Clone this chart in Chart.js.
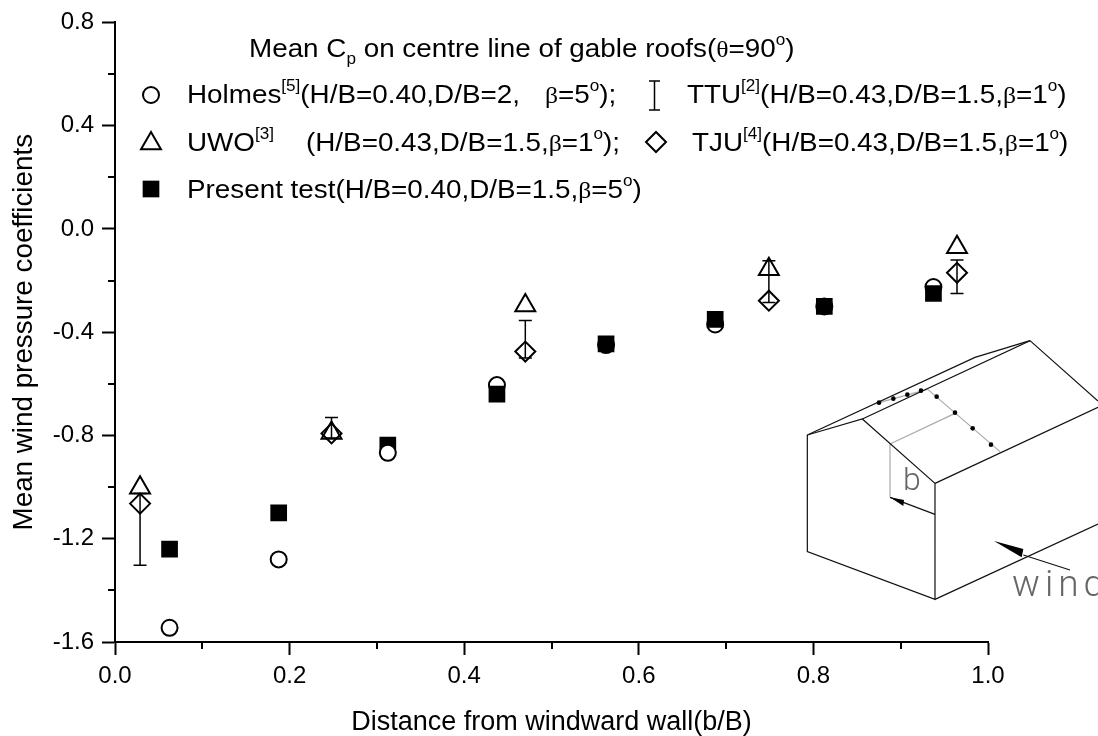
<!DOCTYPE html>
<html><head><meta charset="utf-8">
<style>html,body{margin:0;padding:0;background:#fff}canvas{display:block}</style>
<script src="https://cdn.jsdelivr.net/npm/chart.js@4/dist/chart.umd.js"></script>
</head><body><div style="width:1098px;height:736px"><canvas id="c" width="1098" height="736"></canvas></div>
<script>
const xAxisTitle = "Distance from windward wall(b/B)";
const yAxisTitle = "Mean wind pressure coefficients";
const holmesX = [0.0625,0.1875,0.3125,0.4375,0.5625,0.6875,0.8125,0.9375];
const holmesY = [-1.545,-1.28,-0.867,-0.605,-0.45,-0.37,-0.30,-0.225];
const presentX = [0.0625,0.1875,0.4375,0.5625,0.6875,0.8125,0.9375];
const presentY = [-1.24,-1.10,-0.64,-0.445,-0.35,-0.30,-0.25];
const presentUnderX = [0.3125];
const presentUnderY = [-0.837];
const sparseX = [0.0287,0.248,0.47,0.749,0.9645];
const uwoY = [-1.003,-0.79,-0.297,-0.156,-0.071];
const tjuY = [-1.064,-0.792,-0.475,-0.278,-0.17];
const ttuHigh = [-1.025,-0.73,-0.355,-0.123,-0.12];
const ttuLow = [-1.303,-0.81,-0.50,-0.285,-0.25];

const pts = (xs,ys)=>xs.map((x,i)=>({x,y:ys[i]}));
const ttuPts = sparseX.flatMap((x,i)=>[{x,y:ttuLow[i]},{x,y:ttuHigh[i]},{x,y:null}]);
const FONT = '"Liberation Sans", Arial, sans-serif';
const GREEK = '"Liberation Serif", serif';
const SIZE = 27.8;
const LEGEND = 26;
const LEGEND_STRETCH = 1.07;
const TICK = 24;

const mk = {
  holmes:{pointStyle:'circle',pointRadius:8,pointBackgroundColor:'#fff',pointBorderColor:'#000',pointBorderWidth:2},
  present:{pointStyle:'rect',pointRadius:11.8,pointBackgroundColor:'#000',pointBorderColor:'#000',pointBorderWidth:0},
  uwo:{pointStyle:'triangle',pointRadius:11.5,pointBackgroundColor:'transparent',pointBorderColor:'#000',pointBorderWidth:2},
  tju:{pointStyle:'rectRot',pointRadius:10,pointBackgroundColor:'transparent',pointBorderColor:'#000',pointBorderWidth:2}
};

const textRows = [
 [249,57,[["Mean C"],["p","sub"],[" on centre line of gable roofs("],["θ","g"],["=90"],["o","sup"],[")"]]],
 [187,103,[["Holmes"],["[5]","sup"],["(H/B=0.40,D/B=2,"]]],
 [545,103,[["β","g"],["=5"],["o","sup"],[");"]]],
 [687,103,[["TTU"],["[2]","sup"],["(H/B=0.43,D/B=1.5,"],["β","g"],["=1"],["o","sup"],[")"]]],
 [187,151,[["UWO"],["[3]","sup"]]],
 [306,151,[["(H/B=0.43,D/B=1.5,"],["β","g"],["=1"],["o","sup"],[");"]]],
 [692,151,[["TJU"],["[4]","sup"],["(H/B=0.43,D/B=1.5,"],["β","g"],["=1"],["o","sup"],[")"]]],
 [187,198,[["Present test(H/B=0.40,D/B=1.5,"],["β","g"],["=5"],["o","sup"],[")"]]]
];

const Z = (x,y)=>[780+x/3,320+y/3];
const blackLines = [
 [[82,345],[82,695],[465,838],[465,490]],
 [[82,345],[247,297],[465,490]],
 [[82,345],[585,112],[750,62]],
 [[247,297],[750,62],[954,243]],
 [[465,490],[954,262]],
 [[465,838],[954,612]],
 [[465,583],[330,532]],
 [[730,705],[870,750]]
];
const grayLines = [
 [[330,372],[330,530]],[[330,372],[525,280]],[[443,208],[660,395]],[[297,248],[443,208]]
];
const dots = [[297,248],[340,236],[382,224],[423,212],[470,230],[525,278],[578,325],[633,374]];
const heads = [
 [[330,532],[372,540],[370,558]],
 [[642,663],[730,687],[725,712]]
];

const overlay = {
 id:'overlay',
 afterDraw(chart){
  const c = chart.ctx, sx = chart.scales.x, sy = chart.scales.y;
  c.save();
  c.strokeStyle='#000'; c.lineWidth=2;
  sx.ticks.forEach(t=>{ if(Math.round(t.value*10)%2!==0){const p=Math.round(sx.getPixelForValue(t.value));
    c.beginPath();c.moveTo(p,642);c.lineTo(p,649);c.stroke();}});
  sy.ticks.forEach(t=>{ if(Math.round(t.value*10)%4!==0){const p=Math.round(sy.getPixelForValue(t.value));
    c.beginPath();c.moveTo(115,p);c.lineTo(108,p);c.stroke();}});
  c.fillStyle='#000'; c.textBaseline='alphabetic'; c.textAlign='left';
  textRows.forEach(([x,y,runs])=>{
    runs.forEach(([s,k])=>{
      let dy=0,f=LEGEND+'px '+FONT;
      if(k==='sup'){f='16px '+FONT;dy=-12;}
      if(k==='sub'){f='16px '+FONT;dy=7;}
      if(k==='g'){f=(LEGEND-2)+'px '+GREEK;}
      c.font=f;
      c.save();c.translate(x,y+dy);c.scale(LEGEND_STRETCH,1);c.fillText(s,0,0);c.restore();
      x+=c.measureText(s).width*LEGEND_STRETCH;
    });
  });
  const dp=(o,x,y)=>{c.fillStyle=o.pointBackgroundColor;c.strokeStyle=o.pointBorderColor;c.lineWidth=o.pointBorderWidth;
    Chart.helpers.drawPoint(c,{pointStyle:o.pointStyle,radius:o.pointRadius,borderWidth:o.pointBorderWidth,rotation:0},x,y);};
  dp(mk.holmes,151,95); dp(mk.uwo,151,143.5); dp(mk.present,151,189); dp(mk.tju,656,142);
  c.strokeStyle='#000';c.lineWidth=1.5;c.beginPath();
  c.moveTo(654.5,81);c.lineTo(654.5,110);c.moveTo(649,81);c.lineTo(660,81);c.moveTo(649,110);c.lineTo(660,110);c.stroke();
  const poly=(l)=>{c.beginPath();l.forEach((p,i)=>{const q=Z(p[0],p[1]);i?c.lineTo(q[0],q[1]):c.moveTo(q[0],q[1]);});};
  c.lineWidth=1.2;
  c.strokeStyle='#aaa';grayLines.forEach(l=>{poly(l);c.stroke();});
  c.strokeStyle='#111';blackLines.forEach(l=>{poly(l);c.stroke();});
  c.fillStyle='#000';heads.forEach(l=>{poly(l);c.closePath();c.fill();});
  dots.forEach(d=>{const q=Z(d[0],d[1]);c.beginPath();c.ellipse(q[0],q[1],2.3,2.3,0,0,7);c.fill();});
  c.fillStyle='#666';
  c.font='300 32px Roboto';c.fillText('b',903,490);
  c.font='300 37px Roboto';c.letterSpacing='5px';c.fillText('wind',1012,596);c.letterSpacing='0px';
  c.restore();
 }
};

new Chart(document.getElementById('c'),{
 type:'scatter',
 data:{datasets:[
  {label:'Holmes',data:pts(holmesX,holmesY),order:3,...mk.holmes},
  {label:'Present test',data:pts(presentX,presentY),order:2,...mk.present},
  {label:'Present test',data:pts(presentUnderX,presentUnderY),order:4,...mk.present},
  {label:'TTU',data:ttuPts,order:0,showLine:true,spanGaps:false,borderColor:'#000',borderWidth:1.5,
   pointStyle:'line',pointRadius:6.5,pointBorderColor:'#000',pointBorderWidth:1.5},
  {label:'UWO',data:pts(sparseX,uwoY),order:1,...mk.uwo},
  {label:'TJU',data:pts(sparseX,tjuY),order:1,...mk.tju}
 ]},
 plugins:[overlay],
 options:{
  responsive:false,animation:false,
  layout:{padding:{top:21,right:110,left:0,bottom:0}},
  plugins:{legend:{display:false},tooltip:{enabled:false},title:{display:false}},
  scales:{
   x:{type:'linear',min:0,max:1,
    afterFit(s){s.height=94;},
    border:{display:true,color:'#000',width:2},
    grid:{display:true,drawOnChartArea:false,drawTicks:true,tickLength:13,tickWidth:2,
      tickColor:(ctx)=>ctx.tick&&Math.round(ctx.tick.value*10)%2===0?'#000':'transparent'},
    ticks:{stepSize:0.1,autoSkip:false,maxRotation:0,padding:7,color:'#000',font:{family:FONT,size:TICK},
      callback:(v)=>Math.round(v*10)%2===0?v.toFixed(1):''},
    title:{display:true,text:xAxisTitle,color:'#000',font:{family:FONT,size:27},padding:{top:0,bottom:-3}}
   },
   y:{type:'linear',min:-1.6,max:0.8,
    afterFit(s){s.width=115;},
    border:{display:true,color:'#000',width:2},
    grid:{display:true,drawOnChartArea:false,drawTicks:true,tickLength:13,tickWidth:2,
      tickColor:(ctx)=>ctx.tick&&Math.round(ctx.tick.value*10)%4===0?'#000':'transparent'},
    ticks:{stepSize:0.2,autoSkip:false,padding:8,color:'#000',font:{family:FONT,size:TICK},
      callback:(v)=>{const n=Math.round(v*10);return n%4===0?(n===0?'0.0':(n/10).toFixed(1)):'';}},
    title:{display:true,text:yAxisTitle,color:'#000',font:{family:FONT,size:SIZE},padding:{top:8,bottom:0}}
   }
  }
 }
});
</script></body></html>
